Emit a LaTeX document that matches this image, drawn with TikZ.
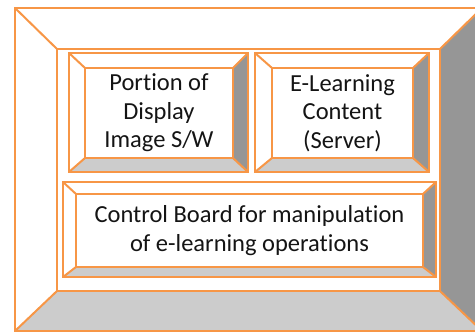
\documentclass[tikz,border=0pt]{standalone}
\usepackage{fontspec}
\setmainfont{Carlito}[Ligatures=NoCommon]
\usepackage{tikz}
\usetikzlibrary{positioning}
\definecolor{myorange}{HTML}{F79646}
\definecolor{sidegray}{gray}{0.59}
\definecolor{basegray}{gray}{0.80}

% bevel around a face node: node name, outer x1, y1, x2, y2
\newcommand{\bevelframe}[5]{%
  \coordinate (#1-nw) at (#2,#3); \coordinate (#1-ne) at (#4,#3);
  \coordinate (#1-se) at (#4,#5); \coordinate (#1-sw) at (#2,#5);
  \fill[sidegray] (#1.north east) -- (#1-ne) -- (#1-se) -- (#1.south east) -- cycle;
  \fill[basegray] (#1.south west) -- (#1.south east) -- (#1-se) -- (#1-sw) -- cycle;
  \draw[edge] (#1-nw) rectangle (#1-se);
  \draw[edge] (#1-nw) -- (#1.north west) (#1-ne) -- (#1.north east)
    (#1-se) -- (#1.south east) (#1-sw) -- (#1.south west);
  \draw[edge] (#1.north west) rectangle (#1.south east);
}

\begin{document}
\begin{tikzpicture}[x=1pt,y=-1pt,
  edge/.style={myorange,line width=2pt,line join=miter},
  face/.style={inner sep=0pt,outer sep=0pt,align=center,text=black!92,
    font=\fontsize{24.5}{28.5}\selectfont}]
\useasboundingbox (0,0) rectangle (475,335);
\begin{scope}
\clip (0,0) rectangle (475,335);
\node[face,minimum width=383pt,minimum height=242pt] (frame) at (248.5,170) {};
\bevelframe{frame}{15}{8}{482}{331}
\end{scope}

\node[face,minimum width=148pt,minimum height=90pt] (display) at (159,113) {Portion of\\Display\\Image S/W};
\bevelframe{display}{69}{53}{248}{172}

\node[face,minimum width=141pt,minimum height=90pt] (content) at (342.5,113) {E-Learning\\Content\\(Server)};
\bevelframe{content}{255}{53}{429}{172}

\node[face,minimum width=347pt,minimum height=73pt] (control) at (249.5,230.5) {Control Board for manipulation\\of e-learning operations};
\bevelframe{control}{63}{182}{436}{277}
\end{tikzpicture}
\end{document}
